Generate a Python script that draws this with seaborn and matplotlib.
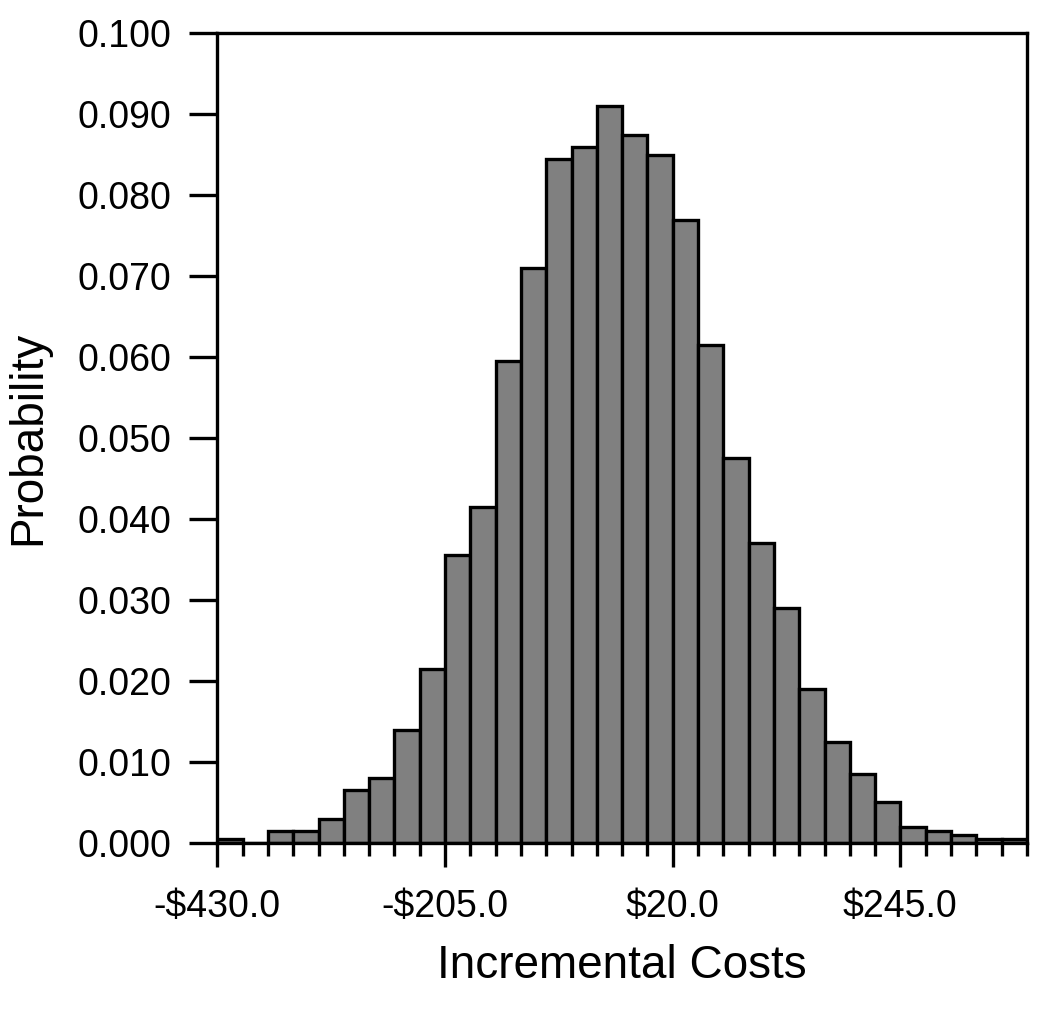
import matplotlib
matplotlib.use("Agg")
import matplotlib.pyplot as plt
from matplotlib.ticker import FuncFormatter, MultipleLocator, FixedLocator
import numpy as np
import pandas as pd
import seaborn as sns

sns.set_theme(style="ticks")
plt.rcParams["font.family"] = ["Liberation Sans", "DejaVu Sans"]
plt.rcParams.update({"text.color": "black", "axes.labelcolor": "black",
                     "xtick.color": "black", "ytick.color": "black"})

# bin edges of the simulation histogram ($25 wide, -430 .. 370)
bin_start = -430.0
bin_width = 25.0
probability = [0.0005, 0.0, 0.0015, 0.0015, 0.003, 0.0065, 0.008, 0.014,
               0.0215, 0.0355, 0.0415, 0.0595, 0.071, 0.0845, 0.086, 0.091,
               0.0875, 0.085, 0.077, 0.0615, 0.0475, 0.037, 0.029, 0.019,
               0.0125, 0.0085, 0.005, 0.002, 0.0015, 0.001, 0.0005, 0.0005]
major_ticks = [-430.0, -205.0, 20.0, 245.0]
y_ticks = [0.000, 0.010, 0.020, 0.030, 0.040, 0.050, 0.060, 0.070, 0.080, 0.090, 0.100]

edges = bin_start + bin_width * np.arange(len(probability) + 1)
df = pd.DataFrame({"cost": (edges[:-1] + edges[1:]) / 2, "prob": probability})

fig, ax = plt.subplots(figsize=(10.5, 10.13), dpi=100)
fig.subplots_adjust(left=0.207, right=0.978, top=0.967, bottom=0.168)

sns.histplot(data=df, x="cost", weights="prob", bins=edges.tolist(), stat="count",
             color="#808080", edgecolor="black", linewidth=2.4, alpha=1, ax=ax)

ax.set_xlim(edges[0], edges[-1])
ax.set_ylim(0, 0.1)

ax.xaxis.set_major_locator(FixedLocator(major_ticks))
ax.xaxis.set_minor_locator(MultipleLocator(25, offset=20))
ax.xaxis.set_major_formatter(FuncFormatter(
    lambda v, p: ("-$%.1f" % abs(v)) if v < 0 else ("$%.1f" % v)))
ax.set_yticks(y_ticks)
ax.yaxis.set_major_formatter(FuncFormatter(lambda v, p: "%.3f" % v))

ax.tick_params(axis="x", which="major", length=17, width=2.4, labelsize=27, pad=16)
ax.tick_params(axis="x", which="minor", length=9, width=2.4)
ax.tick_params(axis="y", which="major", length=20, width=2.4, labelsize=27, pad=13)

for s in ax.spines.values():
    s.set_linewidth(2.4)
    s.set_color("black")
    s.set_visible(True)

ax.set_xlabel("Incremental Costs", fontsize=33, labelpad=14)
ax.set_ylabel("Probability", fontsize=33, labelpad=20)

fig.savefig("out.png", dpi=100)
